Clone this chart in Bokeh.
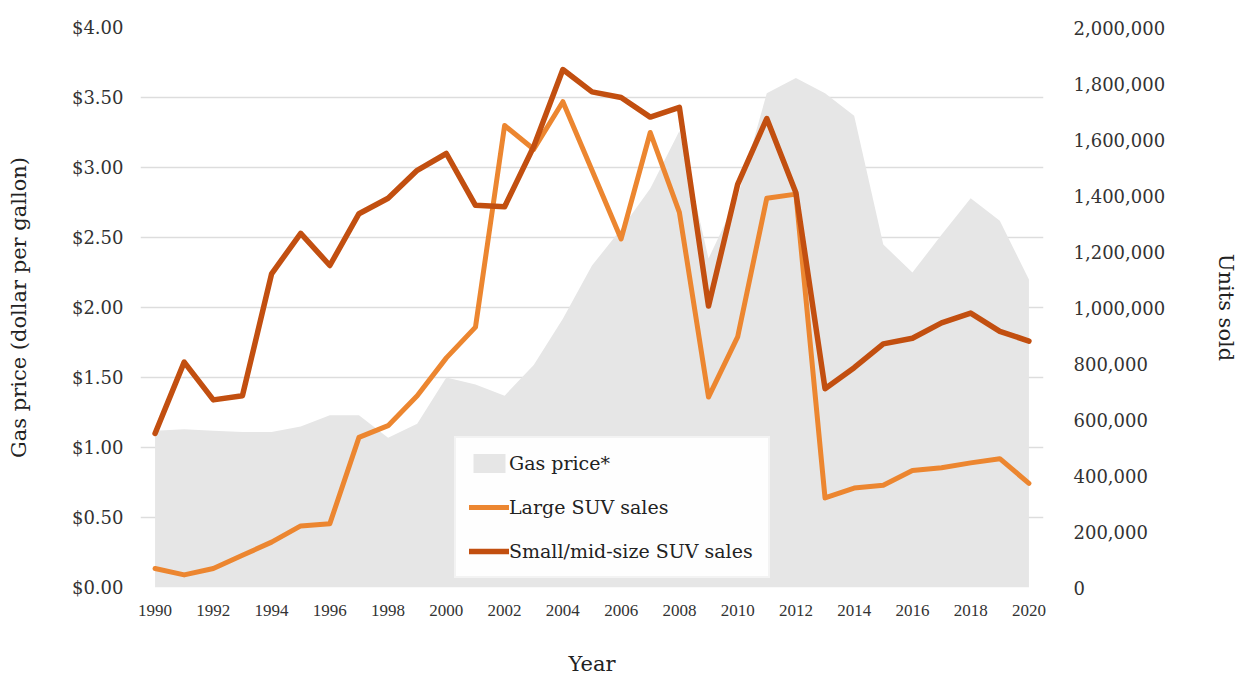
from bokeh.plotting import figure
from bokeh.models import (LinearAxis, Range1d, NumeralTickFormatter, FixedTicker,
                          Legend, LegendItem)
from bokeh.embed import file_html
from bokeh.resources import INLINE

# ---- data ----
years = list(range(1990, 2021))
gas_price = [1.12, 1.13, 1.12, 1.11, 1.11, 1.15, 1.23, 1.23, 1.07, 1.17,
             1.50, 1.45, 1.37, 1.59, 1.92, 2.30, 2.56, 2.85, 3.26, 2.35,
             2.79, 3.53, 3.64, 3.53, 3.37, 2.45, 2.25, 2.52, 2.78, 2.62, 2.20]
large_suv = [68000, 45000, 68000, 115000, 162000, 220000, 228000, 536000, 578000, 685000,
             820000, 930000, 1650000, 1565000, 1735000, 1490000, 1245000, 1625000, 1340000, 680000,
             895000, 1390000, 1405000, 320000, 355000, 365000, 418000, 428000, 445000, 460000, 372000]
small_mid_suv = [550000, 805000, 670000, 685000, 1120000, 1265000, 1150000, 1335000, 1390000, 1490000,
                 1550000, 1365000, 1360000, 1575000, 1850000, 1770000, 1750000, 1680000, 1715000, 1005000,
                 1440000, 1675000, 1410000, 710000, 785000, 870000, 890000, 945000, 980000, 915000, 880000]
year_ticks = list(range(1990, 2021, 2))
price_ticks = [0.0, 0.5, 1.0, 1.5, 2.0, 2.5, 3.0, 3.5, 4.0]
unit_ticks = [0, 200000, 400000, 600000, 800000, 1000000, 1200000, 1400000, 1600000, 1800000, 2000000]

SERIF = "DejaVu Serif"
TXT = "#333333"

p = figure(width=1241, height=679, output_backend="svg", toolbar_location=None,
           x_range=Range1d(1989.5, 2020.5), y_range=Range1d(0, 4),
           min_border_left=140, min_border_right=194, min_border_top=27, min_border_bottom=92,
           background_fill_color="white", border_fill_color="white")
p.outline_line_color = None
p.extra_y_ranges = {"units": Range1d(0, 2000000)}

area = p.varea(x=years, y1=0, y2=gas_price, fill_color="#e6e6e6", fill_alpha=1.0)
l_large = p.line(x=years, y=large_suv, y_range_name="units", line_color="#EC8630",
                 line_width=5, line_join="round", line_cap="round")
l_small = p.line(x=years, y=small_mid_suv, y_range_name="units", line_color="#C24F10",
                 line_width=5.5, line_join="round", line_cap="round")

# grid
p.xgrid.grid_line_color = None
p.ygrid.ticker = FixedTicker(ticks=price_ticks)
p.ygrid.grid_line_color = "#dddddd"
p.ygrid.grid_line_width = 1.5

def style_axis(ax):
    ax.axis_line_color = None
    ax.major_tick_line_color = None
    ax.minor_tick_line_color = None
    ax.major_label_text_font = SERIF
    ax.major_label_text_font_size = "18px"
    ax.major_label_text_color = TXT
    ax.axis_label_text_font = SERIF
    ax.axis_label_text_font_size = "21px"
    ax.axis_label_text_font_style = "normal"
    ax.axis_label_text_color = "#222222"

# left axis
la = p.yaxis[0]
style_axis(la)
la.ticker = FixedTicker(ticks=price_ticks)
la.formatter = NumeralTickFormatter(format="$0.00")
la.axis_label = "Gas price (dollar per gallon)"
la.major_label_standoff = 11
la.axis_label_standoff = 38

# right axis
ra = LinearAxis(y_range_name="units", ticker=FixedTicker(ticks=unit_ticks),
                formatter=NumeralTickFormatter(format="0,0"), axis_label="Units sold")
style_axis(ra)
ra.major_label_standoff = 24
ra.axis_label_standoff = 46
p.add_layout(ra, "right")

# bottom axis
xa = p.xaxis[0]
style_axis(xa)
xa.ticker = FixedTicker(ticks=year_ticks)
xa.formatter = NumeralTickFormatter(format="0")
xa.major_label_text_font = "Liberation Serif"
xa.major_label_text_font_size = "17px"
xa.axis_label = "Year"
xa.axis_label_text_font_size = "21px"
xa.major_label_standoff = 11
xa.axis_label_standoff = 33

legend = Legend(items=[LegendItem(label="Gas price*", renderers=[area]),
                       LegendItem(label="Large SUV sales", renderers=[l_large]),
                       LegendItem(label="Small/mid-size SUV sales", renderers=[l_small])],
                location=(314, 9))
legend.label_text_font = SERIF
legend.label_text_font_size = "19px"
legend.label_text_color = "#222222"
legend.glyph_width = 40
legend.glyph_height = 24
legend.label_height = 24
legend.label_width = 246
legend.spacing = 20
legend.padding = 13
legend.margin = 0
legend.label_standoff = 0
legend.border_line_color = "#e8e8e8"
legend.border_line_width = 2
legend.background_fill_color = "white"
legend.background_fill_alpha = 0.95
p.add_layout(legend, "center")

open("out.html", "w").write(file_html(p, INLINE))
